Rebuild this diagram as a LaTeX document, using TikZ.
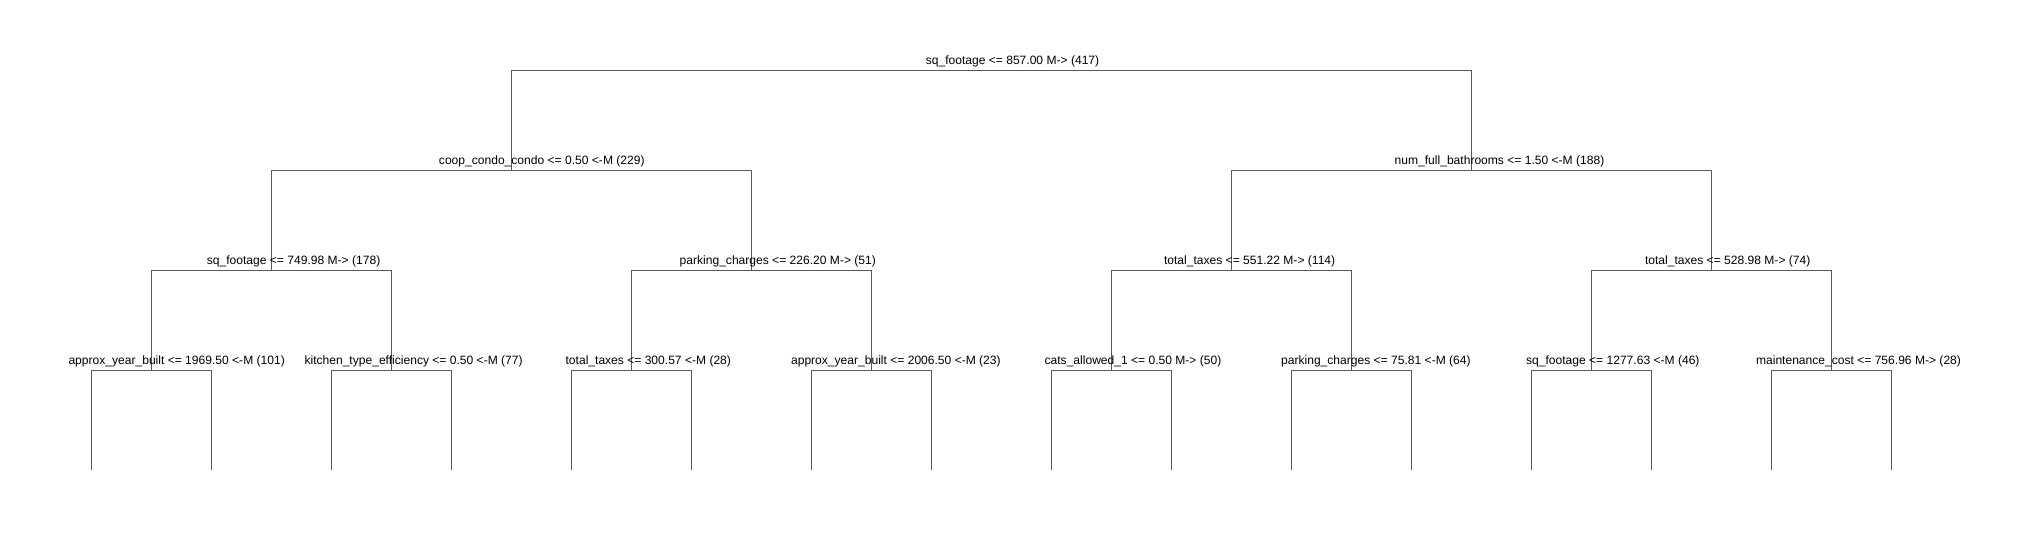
\documentclass[tikz,border=0pt]{standalone}
\usepackage{fontspec}
\setmainfont{Liberation Sans}
\usepackage{tikz}
\usetikzlibrary{calc}
\definecolor{mygray}{RGB}{90, 90, 90}
\tikzset{branch/.style={draw=mygray, line width=0.75pt}}
\tikzset{splitlbl/.style={anchor=base, inner sep=0pt, font=\fontsize{9.05}{11}\selectfont}}

\begin{document}
\begin{tikzpicture}[x=0.75pt, y=-0.75pt]
\useasboundingbox (0,0) rectangle (2031,540);

% split points
\coordinate (n) at (991,70);
\coordinate (nL) at (511,170);
\coordinate (nR) at (1471,170);
\coordinate (nLL) at (271,270);
\coordinate (nLR) at (751,270);
\coordinate (nRL) at (1231,270);
\coordinate (nRR) at (1711,270);
\coordinate (nLLL) at (151,370);
\coordinate (nLLR) at (391,370);
\coordinate (nLRL) at (631,370);
\coordinate (nLRR) at (871,370);
\coordinate (nRLL) at (1111,370);
\coordinate (nRLR) at (1351,370);
\coordinate (nRRL) at (1591,370);
\coordinate (nRRR) at (1831,370);

% leaves
\coordinate (f1) at (91,470);
\coordinate (f2) at (211,470);
\coordinate (f3) at (331,470);
\coordinate (f4) at (451,470);
\coordinate (f5) at (571,470);
\coordinate (f6) at (691,470);
\coordinate (f7) at (811,470);
\coordinate (f8) at (931,470);
\coordinate (f9) at (1051,470);
\coordinate (f10) at (1171,470);
\coordinate (f11) at (1291,470);
\coordinate (f12) at (1411,470);
\coordinate (f13) at (1531,470);
\coordinate (f14) at (1651,470);
\coordinate (f15) at (1771,470);
\coordinate (f16) at (1891,470);

% branches
\draw[branch] (n) -| (nL);
\draw[branch] (n) -| (nR);
\draw[branch] (nL) -| (nLL);
\draw[branch] (nL) -| (nLR);
\draw[branch] (nR) -| (nRL);
\draw[branch] (nR) -| (nRR);
\draw[branch] (nLL) -| (nLLL);
\draw[branch] (nLL) -| (nLLR);
\draw[branch] (nLR) -| (nLRL);
\draw[branch] (nLR) -| (nLRR);
\draw[branch] (nRL) -| (nRLL);
\draw[branch] (nRL) -| (nRLR);
\draw[branch] (nRR) -| (nRRL);
\draw[branch] (nRR) -| (nRRR);
\draw[branch] (nLLL) -| (f1);
\draw[branch] (nLLL) -| (f2);
\draw[branch] (nLLR) -| (f3);
\draw[branch] (nLLR) -| (f4);
\draw[branch] (nLRL) -| (f5);
\draw[branch] (nLRL) -| (f6);
\draw[branch] (nLRR) -| (f7);
\draw[branch] (nLRR) -| (f8);
\draw[branch] (nRLL) -| (f9);
\draw[branch] (nRLL) -| (f10);
\draw[branch] (nRLR) -| (f11);
\draw[branch] (nRLR) -| (f12);
\draw[branch] (nRRL) -| (f13);
\draw[branch] (nRRL) -| (f14);
\draw[branch] (nRRR) -| (f15);
\draw[branch] (nRRR) -| (f16);

% split labels
\node[splitlbl] (tn) at (1012.5,64) {sq\_footage <= 857.00 M-> (417)};
\node[splitlbl] (tnL) at (541.8,164) {coop\_condo\_condo <= 0.50 <-M (229)};
\node[splitlbl] (tnR) at (1499.5,164) {num\_full\_bathrooms <= 1.50 <-M (188)};
\node[splitlbl] (tnLL) at (293.6,264) {sq\_footage <= 749.98 M-> (178)};
\node[splitlbl] (tnLR) at (777.8,264) {parking\_charges <= 226.20 M-> (51)};
\node[splitlbl] (tnRL) at (1249.6,264) {total\_taxes <= 551.22 M-> (114)};
\node[splitlbl] (tnRR) at (1727.7,264) {total\_taxes <= 528.98 M-> (74)};
\node[splitlbl] (tnLLL) at (176.7,364) {approx\_year\_built <= 1969.50 <-M (101)};
\node[splitlbl] (tnLLR) at (413.6,364) {kitchen\_type\_efficiency <= 0.50 <-M (77)};
\node[splitlbl] (tnLRL) at (648.3,364) {total\_taxes <= 300.57 <-M (28)};
\node[splitlbl] (tnLRR) at (895.9,364) {approx\_year\_built <= 2006.50 <-M (23)};
\node[splitlbl] (tnRLL) at (1133,364) {cats\_allowed\_1 <= 0.50 M-> (50)};
\node[splitlbl] (tnRLR) at (1375.9,364) {parking\_charges <= 75.81 <-M (64)};
\node[splitlbl] (tnRRL) at (1612.8,364) {sq\_footage <= 1277.63 <-M (46)};
\node[splitlbl] (tnRRR) at (1858.5,364) {maintenance\_cost <= 756.96 M-> (28)};

\end{tikzpicture}
\end{document}
